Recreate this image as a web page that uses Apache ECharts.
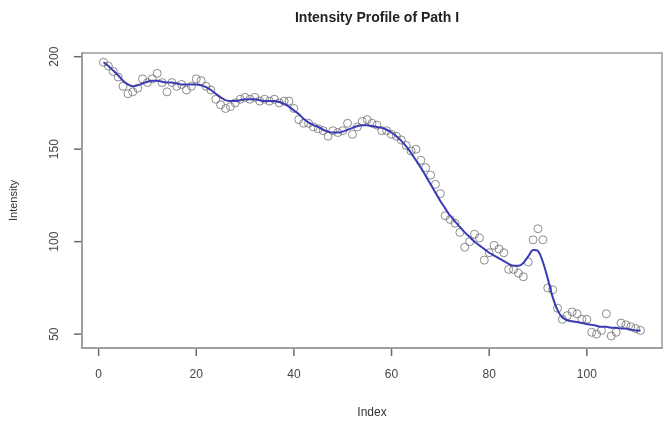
<!DOCTYPE html>
<html>
<head>
<meta charset="utf-8">
<script src="https://cdn.jsdelivr.net/npm/echarts@6/dist/echarts.min.js"></script>
<style>
html,body{margin:0;padding:0;background:#fff;}
#chart{width:664px;height:424px;}
</style>
</head>
<body>
<div id="chart"></div>
<script>
// Observed intensity values, index 1..111
const intensity = [
  197,195,192,189,184,180,181,183,188,186,
  188,191,186,181,186,184,185,182,184,188,
  187,184,182,177,174,172,173,175,177,178,
  177,178,176,177,176,177,175,176,176,172,
  166,164,164,162,161,160,157,160,159,160,
  164,158,162,165,166,164,163,160,160,158,
  157,155,152,149,150,144,140,136,131,126,
  114,112,110,105,97,100,104,102,90,94,
  98,96,94,85,85,83,81,89,101,107,
  101,75,74,64,58,60,62,61,58,58,
  51,50,52,61,49,51,56,55,54,53,
  52
];
// Smoothed fit, index 1..111
const smooth = [
  197,195,192.5,190,187,185,184,184.5,185.5,186.5,
  187,187,186.5,186,186,185.5,185,185,185,185,
  184.5,183.5,182,180,178,176.5,176,176,176.5,177,
  177,177,176.5,176,176,176,175.5,174.5,173,171,
  169,166.5,164.5,163,162,160.5,159.5,159,159,159.5,
  160.5,161.5,162.5,163,163,162.5,162,161.5,160.5,159,
  157,154.5,151.5,148,144,140,135.5,131,126.5,122,
  118,114,111,108,105,102.5,100,98,96,94,
  92.5,91,89.5,88,87,87,88.5,92,95.5,95,
  89,80,70,63,59,57.5,57,56.5,56,55.5,
  55,54.5,54,54,53.5,53.5,53,53,52.5,52,
  52
];
const xTicks = [0, 20, 40, 60, 80, 100];
const yTicks = [50, 100, 150, 200];
const titleText = 'Intensity Profile of Path I';
const xName = 'Index';
const yName = 'Intensity';

const X_MIN = -3.4, X_MAX = 115.4, Y_MIN = 42.5, Y_MAX = 202;

const pts = intensity.map((v, i) => [i + 1, v]);
const fit = smooth.map((v, i) => [i + 1, v]);

const chart = echarts.init(document.getElementById('chart'), null, {renderer: 'canvas'});
const font = '"Liberation Sans", Arial, sans-serif';

chart.setOption({
  animation: false,
  backgroundColor: '#fff',
  title: {
    text: titleText,
    left: 372,
    top: 6,
    textAlign: 'center',
    textStyle: {fontFamily: font, fontSize: 14, fontWeight: 'bold', color: '#222'}
  },
  grid: {
    left: 81, right: 2, top: 53, bottom: 75,
    show: true, borderColor: '#999', borderWidth: 1.5, backgroundColor: 'transparent'
  },
  xAxis: {
    type: 'value', min: X_MIN, max: X_MAX,
    name: xName, nameLocation: 'middle', nameGap: 59,
    nameTextStyle: {fontFamily: font, fontSize: 12, color: '#333'},
    splitLine: {show: false},
    axisLine: {show: true, onZero: false, lineStyle: {color: '#999', width: 1.5}},
    axisTick: {show: false},
    axisLabel: {customValues: xTicks, margin: 21, fontFamily: font, fontSize: 12, color: '#444'}
  },
  yAxis: {
    type: 'value', min: Y_MIN, max: Y_MAX,
    name: yName, nameLocation: 'middle', nameGap: 63, nameRotate: 90,
    nameTextStyle: {fontFamily: font, fontSize: 11, color: '#333'},
    splitLine: {show: false},
    axisLine: {show: true, onZero: false, lineStyle: {color: '#999', width: 1.5}},
    axisTick: {show: false},
    axisLabel: {customValues: yTicks, rotate: 90, margin: 21, fontFamily: font, fontSize: 12, color: '#444'}
  },
  series: [
    {
      type: 'scatter', data: pts, symbol: 'circle', symbolSize: 8,
      itemStyle: {color: 'rgba(0,0,0,0)', borderColor: '#707070', borderWidth: 1},
      z: 2
    },
    {
      type: 'line', data: fit, smooth: 0.3, showSymbol: false,
      lineStyle: {color: '#3a3ab4', width: 2},
      z: 3
    }
  ]
});

// Tick marks placed through the chart's own coordinate conversion
const tickEls = [];
xTicks.forEach(v => {
  const p = chart.convertToPixel({gridIndex: 0}, [v, Y_MIN]);
  tickEls.push({type: 'rect', silent: true, z: 10,
    shape: {x: p[0] - 0.75, y: p[1] + 1, width: 1.5, height: 7},
    style: {fill: '#6a6a6a'}});
});
yTicks.forEach(v => {
  const p = chart.convertToPixel({gridIndex: 0}, [X_MIN, v]);
  tickEls.push({type: 'rect', silent: true, z: 10,
    shape: {x: p[0] - 8, y: p[1] - 0.75, width: 7, height: 1.5},
    style: {fill: '#6a6a6a'}});
});
chart.setOption({graphic: tickEls});
</script>
</body>
</html>
